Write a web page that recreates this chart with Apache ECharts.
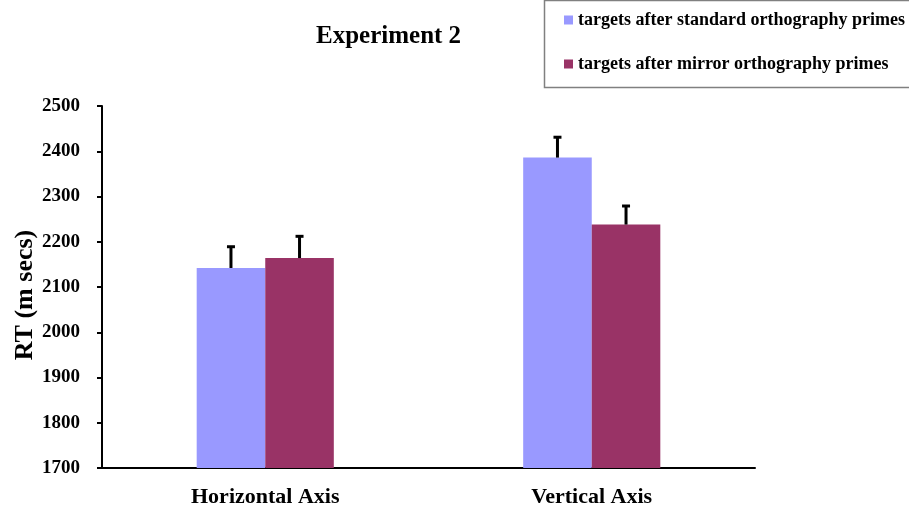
<!DOCTYPE html>
<html>
<head>
<meta charset="utf-8">
<script src="https://cdn.jsdelivr.net/npm/echarts@6/dist/echarts.min.js"></script>
<style>
html,body{margin:0;padding:0;background:#fff;}
#chart{width:909px;height:509px;}
</style>
</head>
<body>
<div id="chart"></div>
<script>
const categories = ['Horizontal Axis', 'Vertical Axis'];
const seriesNames = ['targets after standard orthography primes', 'targets after mirror orthography primes'];
const standardRT = [2142, 2386];
const mirrorRT = [2164, 2238];
const standardErr = [47, 45];
const mirrorErr = [48, 41];

const FONT = "'Liberation Serif', 'Times New Roman', serif";
const BAR_FRAC = 0.21;
const colors = ['#9999FF', '#993366'];

function errData(vals, errs) {
  return vals.map((v, i) => [i, v, errs[i]]);
}
function errSeries(idx, vals, errs) {
  return {
    type: 'custom',
    z: 10,
    silent: true,
    data: errData(vals, errs),
    renderItem: function (params, api) {
      const ci = api.value(0), v = api.value(1), e = api.value(2);
      const band = api.size([1, 0])[0];
      const off = (idx === 0 ? -1 : 1) * band * BAR_FRAC / 2;
      const b = api.coord([ci, v]);
      const t = api.coord([ci, v + e]);
      const cx = b[0] + off;
      return {
        type: 'group',
        children: [
          { type: 'line', shape: { x1: cx, y1: b[1], x2: cx, y2: t[1] }, style: { stroke: '#000', lineWidth: 3 } },
          { type: 'line', shape: { x1: cx - 4, y1: t[1], x2: cx + 4, y2: t[1] }, style: { stroke: '#000', lineWidth: 3 } }
        ]
      };
    }
  };
}

const chart = echarts.init(document.getElementById('chart'));
chart.setOption({
  backgroundColor: '#fff',
  animation: false,
  title: {
    text: 'Experiment 2',
    left: 316, top: 24, padding: 0,
    textStyle: { fontFamily: FONT, fontWeight: 'bold', fontSize: 25, color: '#000' }
  },
  graphic: [{
    type: 'rect', left: 542, top: -2,
    shape: { width: 380, height: 87 },
    style: { fill: 'none', stroke: '#808080', lineWidth: 1.5 }
  }],
  legend: {
    data: seriesNames,
    orient: 'vertical',
    left: 564, top: 11, padding: 0,
    itemWidth: 9, itemHeight: 9, itemGap: 26,
    icon: 'rect',
    textStyle: { fontFamily: FONT, fontWeight: 'bold', fontSize: 18, color: '#000', lineHeight: 18 }
  },
  grid: { left: 102, right: 154, top: 106, bottom: 41, containLabel: false, outerBoundsMode: 'none' },
  xAxis: {
    type: 'category',
    data: categories,
    axisLine: { lineStyle: { color: '#000', width: 2 } },
    axisTick: { inside: true, length: 6, lineStyle: { color: '#000', width: 2 } },
    axisLabel: { margin: 18, fontFamily: FONT, fontWeight: 'bold', fontSize: 22, color: '#000' }
  },
  yAxis: {
    type: 'value',
    min: 1700, max: 2500, interval: 100,
    name: 'RT (m secs)',
    nameLocation: 'middle',
    nameGap: 64,
    nameMoveOverlap: false,
    nameTextStyle: { fontFamily: FONT, fontWeight: 'bold', fontSize: 26, color: '#000', padding: [0, 16, 0, 0] },
    axisLine: { show: true, lineStyle: { color: '#000', width: 2 } },
    axisTick: { show: true, length: 5, lineStyle: { color: '#000', width: 2 } },
    splitLine: { show: false },
    axisLabel: { margin: 22, fontFamily: FONT, fontWeight: 'bold', fontSize: 19, color: '#000',
      formatter: function (v) { return String(v); } }
  },
  series: [
    { name: seriesNames[0], type: 'bar', data: standardRT, barWidth: (BAR_FRAC * 100) + '%', barGap: '0%', itemStyle: { color: colors[0] } },
    { name: seriesNames[1], type: 'bar', data: mirrorRT, barWidth: (BAR_FRAC * 100) + '%', barGap: '0%', itemStyle: { color: colors[1] } },
    errSeries(0, standardRT, standardErr),
    errSeries(1, mirrorRT, mirrorErr)
  ]
});
</script>
</body>
</html>
